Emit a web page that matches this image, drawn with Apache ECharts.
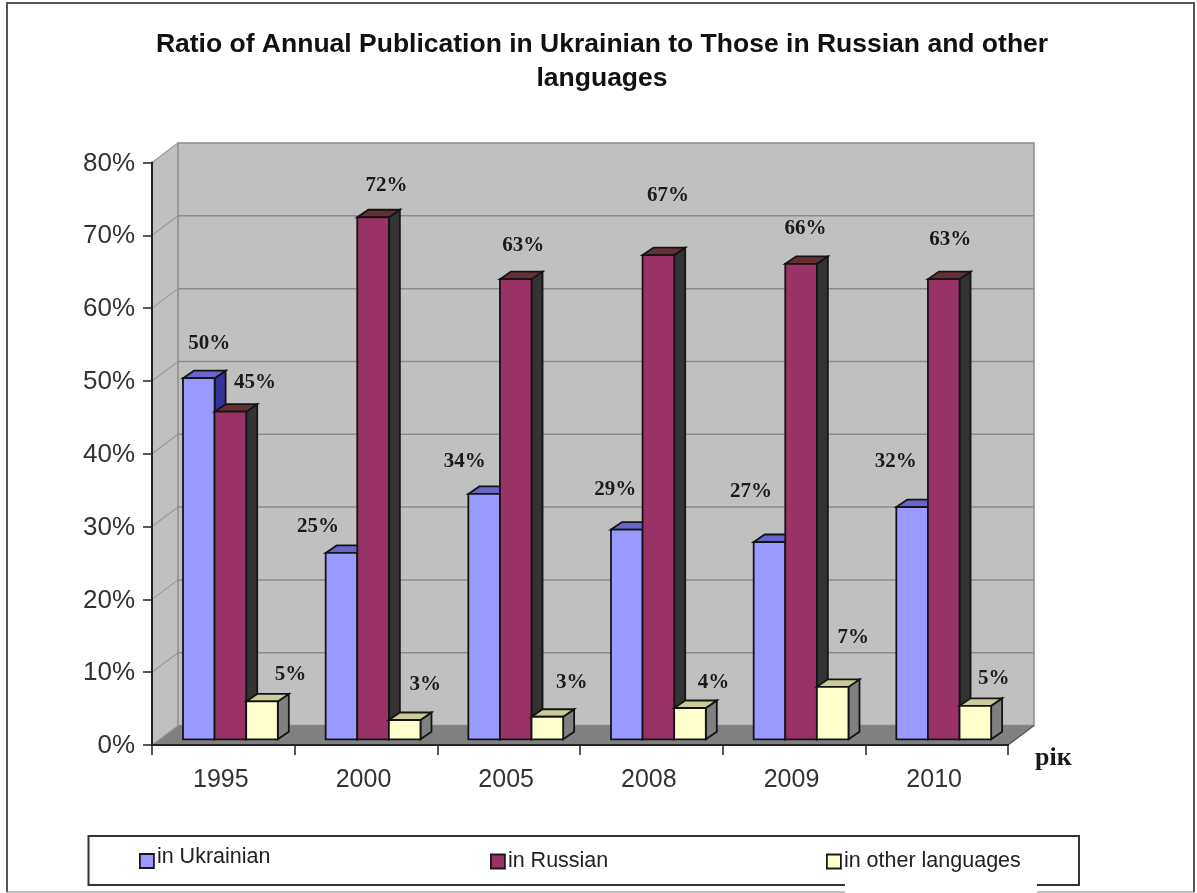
<!DOCTYPE html>
<html>
<head>
<meta charset="utf-8">
<style>html,body{margin:0;padding:0;background:#fff}#c{width:1197px;height:893px}</style>
<script src="https://cdn.jsdelivr.net/npm/echarts@6/dist/echarts.min.js"></script>
</head>
<body>
<div id="c"></div>
<script>
const categories = ['1995', '2000', '2005', '2008', '2009', '2010'];
const yTicks = [0, 10, 20, 30, 40, 50, 60, 70, 80];
const ukrainian = [49.6, 25.6, 33.7, 28.8, 27.1, 31.9];
const russian = [45, 71.7, 63.2, 66.5, 65.3, 63.2];
const other = [5.2, 2.65, 3.1, 4.3, 7.2, 4.6];
const ukrainianLabels = ['50%', '25%', '34%', '29%', '27%', '32%'];
const russianLabels = ['45%', '72%', '63%', '67%', '66%', '63%'];
const otherLabels = ['5%', '3%', '3%', '4%', '7%', '5%'];
const titleText = 'Ratio of Annual Publication in Ukrainian to Those in Russian and other\nlanguages';
const xAxisName = 'рік';

// label offsets relative to the bar top centre
const labelShift = [
  {dx: [9, -25, -21, -13, -20, -18], dy: [-37, -28, -34, -42, -52, -47]},
  {dx: [23, 12, 6, 8, 3, 5], dy: [-31, -34, -36, -62, -37, -42]},
  {dx: [27, 19, 23, 22, 19, 17], dy: [-29, -37, -36, -27, -51, -29]}
];
const faces = [
  {front: '#9999FF', top: '#6666CC', side: '#333399'},
  {front: '#993366', top: '#662F33', side: '#333333'},
  {front: '#FFFFCC', top: '#CCCC99', side: '#808080'}
];
const stroke = '#141414';

function barRenderer(idx, labels) {
  return function (params, api) {
    const i = params.dataIndex;
    const cat = api.value(0);
    const topPt = api.coord([cat, api.value(1)]);
    const basePt = api.coord([cat, 0]);
    const band = api.size([1, 0])[0];
    const w = band * 0.2215;
    const x0 = topPt[0] - band / 2 + band * 0.2173 + idx * w;
    const lift = 5.7, ddx = 11, ddy = -7.5;
    const yT = topPt[1] - lift, yB = basePt[1] - lift, x1 = x0 + w;
    const f = faces[idx];
    const st = {stroke: stroke, lineWidth: 1.8, lineJoin: 'miter'};
    return {
      type: 'group',
      children: [
        {type: 'polygon', shape: {points: [[x1, yT], [x1 + ddx, yT + ddy], [x1 + ddx, yB + ddy], [x1, yB]]}, style: Object.assign({fill: f.side}, st)},
        {type: 'polygon', shape: {points: [[x0, yT], [x0 + ddx, yT + ddy], [x1 + ddx, yT + ddy], [x1, yT]]}, style: Object.assign({fill: f.top}, st)},
        {type: 'rect', shape: {x: x0, y: yT, width: w, height: yB - yT}, style: Object.assign({fill: f.front}, st)},
        {type: 'text', z2: 50, style: {
          text: labels[i], x: x0 + w / 2 + labelShift[idx].dx[i] + 1.5, y: yT + labelShift[idx].dy[i] + 2,
          align: 'center', verticalAlign: 'middle', fill: '#1a1a1a',
          font: 'bold 21px "Liberation Serif"'
        }}
      ]
    };
  };
}

function backdrop(params, api) {
  const cs = params.coordSys;
  const L = cs.x, R = cs.x + cs.width, B = cs.y + cs.height, T = cs.y;
  const dx = 26, dy = -19.5;
  const kids = [
    {type: 'polygon', shape: {points: [[L, T], [L + dx, T + dy], [L + dx, B + dy], [L, B]]}, style: {fill: '#C0C0C0'}},
    {type: 'rect', shape: {x: L + dx, y: T + dy, width: R - L, height: B - T}, style: {fill: '#C0C0C0', stroke: '#8c8c8c', lineWidth: 1.5}},
    {type: 'polygon', shape: {points: [[L, B], [L + dx, B + dy], [R + dx, B + dy], [R, B]]}, style: {fill: '#808080'}},
    {type: 'line', shape: {x1: R, y1: B, x2: R + dx, y2: B + dy}, style: {stroke: '#555', lineWidth: 1.5}}
  ];
  yTicks.forEach(function (v) {
    const y = api.coord([0, v])[1];
    kids.push({type: 'line', shape: {x1: L, y1: y, x2: L + dx, y2: y + dy}, style: {stroke: '#999', lineWidth: 1.2}});
    if (v > 0 && v < 80) kids.push({type: 'line', shape: {x1: L + dx, y1: y + dy, x2: R + dx, y2: y + dy}, style: {stroke: '#8c8c8c', lineWidth: 1.5}});
  });
  return {type: 'group', children: kids};
}

function barSeries(name, values, idx, labels) {
  return {
    name: name, type: 'custom', z: 3, clip: false,
    itemStyle: {color: faces[idx].front},
    encode: {x: 0, y: 1},
    data: values.map(function (v, i) { return [categories[i], v]; }),
    renderItem: barRenderer(idx, labels)
  };
}

function legendFor(name, left, top, textLift) {
  return {
    data: [name], left: left, top: top, padding: 0,
    orient: 'horizontal', icon: 'rect', itemWidth: 14, itemHeight: 14, itemGap: 0, selectedMode: false,
    itemStyle: {borderColor: '#1a1a1a', borderWidth: 1.8},
    formatter: '{t|{name}}',
    textStyle: {
      padding: [0, 0, 0, -2],
      rich: {t: {fontFamily: '"Liberation Sans"', fontSize: 21.5, color: '#222', padding: [0, 0, textLift, 0]}}
    }
  };
}

const chart = echarts.init(document.getElementById('c'), null, {renderer: 'canvas'});
chart.setOption({
  backgroundColor: '#fff',
  animation: false,
  title: {
    text: titleText, left: 597, top: 23, textAlign: 'center',
    textStyle: {fontFamily: '"Liberation Sans"', fontWeight: 'bold', fontSize: 26.5, lineHeight: 34, color: '#111'}
  },
  grid: {left: 152, right: 189, top: 162.5, bottom: 148, containLabel: false},
  xAxis: {
    type: 'category', data: categories, z: 5,
    axisLine: {lineStyle: {color: '#222', width: 2}},
    axisTick: {show: true, alignWithLabel: false, length: 10, lineStyle: {color: '#222', width: 1.5}},
    axisLabel: {margin: 23, padding: [0, 5, 0, 0], fontFamily: '"Liberation Sans"', fontSize: 25, color: '#333'},
    splitLine: {show: false}
  },
  yAxis: {
    type: 'value', min: 0, max: 80, interval: 10, z: 5,
    axisLine: {show: true, lineStyle: {color: '#222', width: 2}},
    axisTick: {show: true, length: 9, lineStyle: {color: '#222', width: 1.5}},
    axisLabel: {
      margin: 17, formatter: '{a|{value}%}',
      rich: {a: {fontFamily: '"Liberation Sans"', fontSize: 26, color: '#333', padding: [2, 0, 0, 0]}}
    },
    splitLine: {show: false}
  },
  legend: [
    legendFor('in Ukrainian', 139, 846, 8),
    legendFor('in Russian', 490, 850, 1),
    legendFor('in other languages', 826, 850, 1)
  ],
  graphic: [
    {type: 'line', z: -1, shape: {x1: 7, y1: 892, x2: 1194, y2: 892}, style: {stroke: '#aaa', lineWidth: 1.5}},
    {type: 'polyline', z: -1, shape: {points: [[7, 892], [7, 3], [1194, 3], [1194, 892]]}, style: {fill: 'none', stroke: '#555', lineWidth: 2}},
    {type: 'rect', z: -1, shape: {x: 88.5, y: 836, width: 990.5, height: 49}, style: {fill: '#fff', stroke: '#333', lineWidth: 2}},
    {type: 'rect', z: 0, shape: {x: 845, y: 884, width: 192, height: 9}, style: {fill: '#fff'}},
    {type: 'text', left: 1035, top: 745, style: {text: xAxisName, font: 'bold 26px "Liberation Serif"', fill: '#1a1a1a'}}
  ],
  series: [
    {type: 'custom', name: 'walls', z: 1, clip: false, silent: true, encode: {x: 0, y: 1}, data: [[categories[0], 0]], renderItem: backdrop},
    barSeries('in Ukrainian', ukrainian, 0, ukrainianLabels),
    barSeries('in Russian', russian, 1, russianLabels),
    barSeries('in other languages', other, 2, otherLabels)
  ]
});
</script>
</body>
</html>
